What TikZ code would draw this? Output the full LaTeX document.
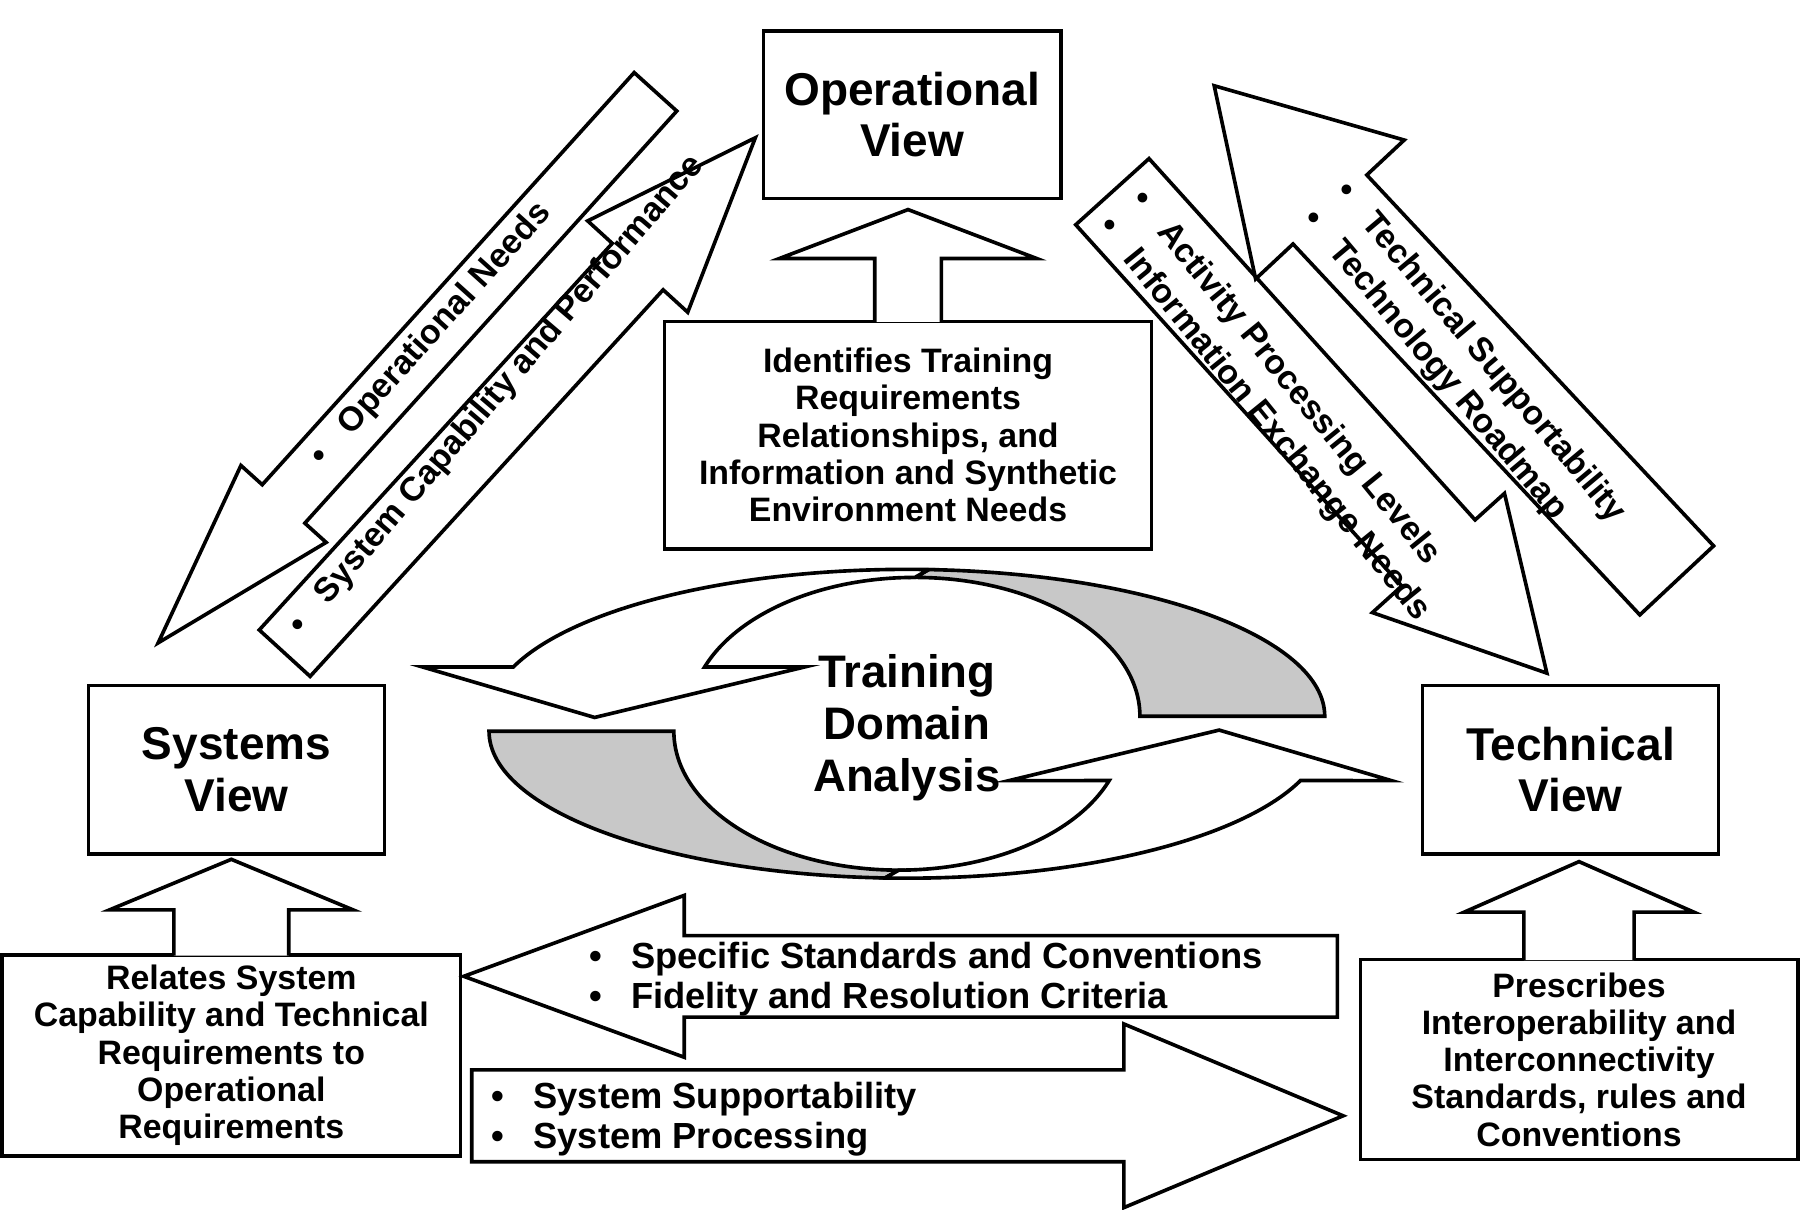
\documentclass[tikz,border=0pt]{standalone}
\usepackage{fontspec}
\setmainfont{Liberation Sans}
\usepackage{xcolor}
\usetikzlibrary{calc}

\definecolor{ribbon}{RGB}{200,200,200}
\newcommand{\viewtxt}{\fontsize{11.4}{12.7}\selectfont\bfseries}
\newcommand{\hubtxt}{\fontsize{11.3}{12.8}\selectfont\bfseries}
\newcommand{\boxtxt}{\fontsize{8.4}{9.25}\selectfont\bfseries}
\newcommand{\flowtxt}{\fontsize{9}{9.8}\selectfont\bfseries}
\newcommand{\diagtxt}{\fontsize{8.4}{10.7}\selectfont\bfseries}
\newcommand{\bul}{\textbullet\hspace{2.55mm}}

% block arrow: #2 tail, #3 tip, #4 shaft half width, #5 head half width, #6 head length
\newcommand{\fatarrow}[6][-- cycle]{%
  \coordinate (hb) at ($(#3)!#6!(#2)$);
  \draw[blk] ($(#2)!#4!90:(#3)$) -- ($(hb)!#4!90:(#3)$) -- ($(hb)!#5!90:(#3)$) -- (#3)
    -- ($(hb)!#5!-90:(#3)$) -- ($(hb)!#4!-90:(#3)$) -- ($(#2)!#4!-90:(#3)$) #1;}

\begin{document}
\begin{tikzpicture}[
  x=0.1mm, y=0.1mm,
  blk/.style={draw, line width=0.9pt, fill=white},
  viewbox/.style={draw, line width=0.9pt, fill=white, align=center, inner sep=0pt, font=\viewtxt},
  notebox/.style={viewbox, font=\boxtxt},
  flowlbl/.style={align=left, inner sep=0pt, font=\flowtxt},
  diaglbl/.style={align=left, inner sep=0pt, font=\diagtxt}
]
\useasboundingbox (0,0) rectangle (1568,-1054);

% the three views and their notes
\node[viewbox, minimum width=25.9mm, minimum height=14.6mm] (opview) at (794.5,-100) {Operational\\View};
\node[viewbox, minimum width=25.8mm, minimum height=14.7mm] (sysview) at (206,-670.5) {Systems\\View};
\node[viewbox, minimum width=25.8mm, minimum height=14.7mm] (techview) at (1368,-670.5) {Technical\\View};

\node[notebox, minimum width=42.4mm, minimum height=19.8mm] (ident) at (791,-379)
  {Identifies Training\\Requirements\\Relationships, and\\Information and Synthetic\\Environment Needs};
\node[notebox, minimum width=39.9mm, minimum height=17.5mm] (relates) at (201.5,-919.5)
  {Relates System\\Capability and Technical\\Requirements to\\Operational\\Requirements};
\node[notebox, minimum width=38.1mm, minimum height=17.4mm] (prescr) at (1375.5,-923)
  {Prescribes\\Interoperability and\\Interconnectivity\\Standards, rules and\\Conventions};

% notes feed their views
\coordinate (identtail) at ($(ident.north)+(0,-2)$);
\coordinate (identtip) at ($(opview.south -| ident.north)+(0,-8)$);
\fatarrow[]{identtail}{identtip}{2.9mm}{11.2mm}{4.26mm}
\coordinate (relatail) at ($(relates.north)+(0,-2)$);
\coordinate (relatip) at ($(sysview.south -| relates.north)+(0,-3)$);
\fatarrow[]{relatail}{relatip}{5.0mm}{10.6mm}{4.4mm}
\coordinate (prestail) at ($(prescr.north)+(0,-2)$);
\coordinate (prestip) at ($(techview.south -| prescr.north)+(0,-5)$);
\fatarrow[]{prestail}{prestip}{4.8mm}{10.0mm}{4.4mm}

% exchanges between the views
\coordinate (needtail) at (571,-80);
\coordinate (needtip) at (137.8,-560);
\fatarrow{needtail}{needtip}{2.5mm}{5.0mm}{16.3mm}
\coordinate (captail) at (248,-569);
\coordinate (captip) at (658,-120);
\fatarrow{captail}{captip}{3.0mm}{5.9mm}{15.2mm}
\coordinate (acttail) at (969,-167);
\coordinate (acttip) at (1347.5,-586.4);
\fatarrow{acttail}{acttip}{4.3mm}{7.75mm}{14.1mm}
\coordinate (supptail) at (1460.6,-505.6);
\coordinate (supptip) at (1057.7,-74.7);
\fatarrow{supptail}{supptip}{4.4mm}{8.86mm}{14.76mm}
\coordinate (stdtail) at (1165,-850.5);
\coordinate (stdtip) at (404,-850.5);
\fatarrow{stdtail}{stdtip}{3.55mm}{7.05mm}{19.2mm}
\coordinate (proctail) at (411,-972);
\coordinate (proctip) at (1170,-972);
\fatarrow{proctail}{proctip}{4.0mm}{8.0mm}{19.1mm}

% central cycle
\coordinate (upc) at (790,-624);
\coordinate (upin) at (797,-624);
\coordinate (loc) at (790,-637);
\coordinate (loin) at (783,-637);
\draw[blk, fill=ribbon] ($(upc)+(87:36.4mm and 12.8mm)$)
  arc[start angle=87, end angle=0, x radius=36.4mm, y radius=12.8mm]
  -- ($(upin)+(0:19.6mm and 12.1mm)$)
  arc[start angle=0, end angle=90, x radius=19.6mm, y radius=12.1mm] -- cycle;
\draw[blk] ($(upc)+(87:36.4mm and 12.8mm)$)
  arc[start angle=87, end angle=160.4, x radius=36.4mm, y radius=12.8mm]
  -- (368,-581) -- (518,-625) -- (701,-581)
  -- ($(upin)+(159.2:19.6mm and 12.1mm)$)
  arc[start angle=159.2, end angle=90, x radius=19.6mm, y radius=12.1mm] -- cycle;
\draw[blk, fill=ribbon] ($(loc)+(267:36.4mm and 12.8mm)$)
  arc[start angle=267, end angle=180, x radius=36.4mm, y radius=12.8mm]
  -- ($(loin)+(180:19.6mm and 12.1mm)$)
  arc[start angle=180, end angle=270, x radius=19.6mm, y radius=12.1mm] -- cycle;
\draw[blk] ($(loc)+(267:36.4mm and 12.8mm)$)
  arc[start angle=267, end angle=340.4, x radius=36.4mm, y radius=12.8mm]
  -- (1212,-680) -- (1062,-636) -- (879,-680)
  -- ($(loin)+(339.2:19.6mm and 12.1mm)$)
  arc[start angle=339.2, end angle=270, x radius=19.6mm, y radius=12.1mm] -- cycle;
\node[font=\hubtxt, align=center] (hub) at (790,-634) {Training\\Domain\\Analysis};

% arrow texts
\node[diaglbl, rotate=48] (needtxt) at (375.7,-291.5) {\bul Operational Needs};
\node[diaglbl, rotate=49.5] (captxt) at (432.7,-344.5) {\bul System Capability and Performance};
\node[diaglbl, rotate=-51] (acttxt) at (1115.4,-353.8) {\bul Activity Processing Levels\\\bul Information Exchange Needs};
\node[diaglbl, rotate=-50] (supptxt) at (1274.6,-319) {\bul Technical Supportability\\\bul Technology Roadmap};
\node[flowlbl, anchor=west] (stdtxt) at (512.5,-853) {\bul Specific Standards and Conventions\\\bul Fidelity and Resolution Criteria};
\node[flowlbl, anchor=west] (proctxt) at (427.5,-975) {\bul System Supportability\\\bul System Processing};
\end{tikzpicture}
\end{document}
